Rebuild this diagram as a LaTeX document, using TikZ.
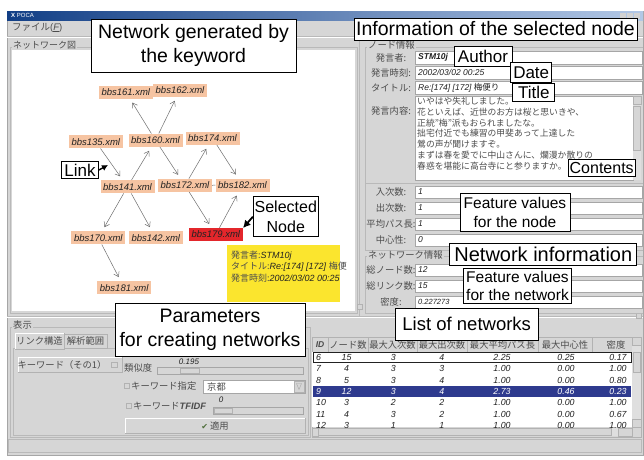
\documentclass[tikz,border=0pt]{standalone}
\usepackage{fontspec}
\setmainfont{Liberation Sans}
\newfontfamily\jp{Noto Sans CJK JP}
\newfontfamily\dv{DejaVu Sans}
\usetikzlibrary{arrows.meta}
\definecolor{wg}{HTML}{D6D6D6}
\definecolor{peach}{HTML}{F6C4A2}
\definecolor{selred}{HTML}{E3262B}
\definecolor{tipy}{HTML}{FBE52E}
\definecolor{selrow}{HTML}{2E3A8E}
\definecolor{tbl}{HTML}{123F86}
\definecolor{tbr}{HTML}{B3C8E6}
\definecolor{uitext}{HTML}{4C4C4C}
\definecolor{edgec}{HTML}{6E6E6E}
\definecolor{dk}{HTML}{222222}
\definecolor{chk}{HTML}{4E6E3A}
\begin{document}
\begin{tikzpicture}[x=1pt,y=-1pt,
  anno/.style={draw=black, line width=0.8pt, fill=white, inner sep=0pt, align=center, text=black},
  bbs/.style={fill=peach, inner sep=0pt, minimum width=54pt, minimum height=13pt, font=\fontsize{9.5}{10}\selectfont\itshape, text=dk},
  edge/.style={draw=edgec, line width=0.5pt, -{Straight Barb[length=4.5pt,width=6pt]}, shorten >=4.5pt},
  jl/.style={inner sep=0pt, text=uitext, font=\jp\fontsize{9.3}{10}\selectfont},
  iv/.style={inner sep=0pt, anchor=west, text=dk, font=\fontsize{8.5}{9}\selectfont\itshape},
  tv/.style={inner sep=0pt, font=\fontsize{8.8}{9}\selectfont\itshape},
  ct/.style={inner sep=0pt, anchor=west, text=uitext, font=\jp\fontsize{8.8}{10}\selectfont},
  field/.style={fill=white, draw=gray!70, line width=0.5pt},
  raised/.style={fill=wg, draw=gray!60, line width=0.5pt},
  etch/.style={draw=gray!55, line width=0.6pt},
  hilite/.style={draw=white, line width=0.6pt},
  ]
\useasboundingbox (0,0) rectangle (644,459);
\fill[white] (0,0) rectangle (644,459);
% window
\fill[wg] (7,11) rectangle (643,455);
\draw[gray!70] (7,11) rectangle (643,455);
\shade[left color=tbl, right color=tbr] (7,11) rectangle (643,20.5);
\node[inner sep=0pt, anchor=west, text=white, font=\fontsize{6}{6}\selectfont] (ttl) at (11,15.8) {\textbf{X}\ POCA};
\foreach \k in {0,1,2} \fill[gray!35] (620+7*\k,12.5) rectangle (626+7*\k,19);
% menu
\node[inner sep=0pt, anchor=west, text=uitext, font=\fontsize{9.5}{10}\selectfont] (menu) at (12,27.5) {{\jp ファイル}(\textit{\underline{F}})};
\draw[etch] (7,36) -- (643,36); \draw[hilite] (7,37) -- (643,37);

% left frame and canvas
\draw[etch] (10,47) rectangle (357,313);
\fill[white] (12,50) rectangle (355,311);
\node[jl, anchor=west, fill=wg, inner xsep=1pt, font=\jp\fontsize{9}{10}\selectfont] (netfig) at (12,45) {ネットワーク図};

% splitters
\draw[etch] (359.5,37) -- (359.5,316);
\draw[gray!60, fill=wg] (357,304) rectangle (362,309);
\draw[etch] (7,316.5) -- (643,316.5); \draw[hilite] (7,317.5) -- (643,317.5);
\draw[gray!60, fill=wg] (636,313.5) rectangle (641,318.5);

% network
\node[bbs] (n161) at (125.8,92) {bbs161.xml};
\node[bbs] (n162) at (180,90) {bbs162.xml};
\node[bbs] (n135) at (95.8,141.8) {bbs135.xml};
\node[bbs] (n160) at (155.5,140.2) {bbs160.xml};
\node[bbs] (n174) at (212.5,138.2) {bbs174.xml};
\node[bbs] (n141) at (127.5,186.7) {bbs141.xml};
\node[bbs] (n172) at (185,185.3) {bbs172.xml};
\node[bbs] (n182) at (242.5,185) {bbs182.xml};
\node[bbs] (n170) at (98.3,237.8) {bbs170.xml};
\node[bbs] (n142) at (155.8,237.8) {bbs142.xml};
\node[bbs, fill=selred] (n179) at (215.8,234.5) {bbs179.xml};
\node[bbs] (n181) at (124.2,287.8) {bbs181.xml};
\draw[edge] (n160) -- (n161);
\draw[edge] (n160) -- (n162);
\draw[edge] (n135) -- (n141);
\draw[edge] (n141) -- (n160);
\draw[edge] (n160) -- (n172);
\draw[edge] (n172) -- (n174);
\draw[edge] (n174) -- (n182);
\draw[edge] (n141) -- (n170);
\draw[edge] (n141) -- (n142);
\draw[edge] (n172) -- (n179);
\draw[edge] (n179) -- (n182);
\draw[edge] (n170) -- (n181);
\draw[edgec, line width=0.5pt] (n172.east) -- (n182.west);

% tooltip
\fill[tipy] (227,245) rectangle (340,302);
\node[inner sep=0pt, anchor=west, font=\fontsize{9}{10}\selectfont, text=dk] (tip1) at (231,256) {{\jp\color{uitext}発言者:}\textit{STM10j}};
\node[inner sep=0pt, anchor=west, font=\fontsize{9}{10}\selectfont, text=dk] (tip2) at (231,267) {{\jp\color{uitext}タイトル:}\textit{Re:[174] [172]} {\jp\color{uitext}梅便}};
\node[inner sep=0pt, anchor=west, font=\fontsize{9}{10}\selectfont, text=dk] (tip3) at (231,278) {{\jp\color{uitext}発言時刻:}\textit{2002/03/02 00:25}};

% node info panel
\draw[etch] (365,47) -- (643,47);
\draw[etch] (365,47) -- (365,250) -- (643,250);
\node[jl, anchor=west, fill=wg, inner xsep=1pt] (nodeinfo) at (367,45) {ノード情報};
\node[jl] (l1) at (391,57.5) {発言者:};
\node[jl] (l2) at (391,72.5) {発言時刻:};
\node[jl] (l3) at (391,87.5) {タイトル:};
\node[jl] (l4) at (391,111) {発言内容:};
\draw[field] (415,51) rectangle (642,64);
\draw[field] (415,66) rectangle (642,79);
\draw[field] (415,81) rectangle (642,94);
\draw[field] (415,96) rectangle (633,180);
\fill[gray!25] (633,96) rectangle (641,180);
\draw[raised] (633,96) rectangle (641,104);
\draw[raised] (633.5,106) rectangle (640.5,150);
\node[iv, font=\fontsize{8.5}{9}\selectfont\itshape\bfseries] (v1) at (418,57.5) {STM10j};
\node[iv] (v2) at (418,72.5) {2002/03/02 00:25};
\node[iv] (v3) at (418,87.5) {Re:[174] [172] {\jp\upshape 梅便り}};
\node[ct] (c1) at (417,101.5) {いやはや失礼しました。};
\node[ct] (c2) at (417,112.2) {花といえば、近世のお方は桜と思いきや、};
\node[ct] (c3) at (417,122.9) {正統”梅”派もおられましたな。};
\node[ct] (c4) at (417,133.6) {拙宅付近でも練習の甲斐あって上達した};
\node[ct] (c5) at (417,144.3) {鶯の声が聞けますぞ。};
\node[ct] (c6) at (417,155) {まずは春を愛でに中山さんに、爛漫か散りの};
\node[ct] (c7) at (417,165.7) {春惑を堪能に高台寺にと参りますか。};
\draw[etch] (365,183) -- (643,183);
\node[jl] (l5) at (391,192) {入次数:};
\node[jl] (l6) at (391,208) {出次数:};
\node[jl] (l7) at (391,224) {平均パス長:};
\node[jl] (l8) at (391,240) {中心性:};
\draw[field] (415,186) rectangle (642,198);
\draw[field] (415,202) rectangle (642,214);
\draw[field] (415,218) rectangle (642,230);
\draw[field] (415,234) rectangle (642,246);
\node[iv] (v5) at (418,192) {1};
\node[iv] (v6) at (418,208) {1};
\node[iv] (v7) at (418,224) {1};
\node[iv] (v8) at (418,240) {0};

% network info panel
\draw[etch] (365,256) -- (643,256);
\draw[etch] (365,256) -- (365,313) -- (643,313);
\node[jl, anchor=west, fill=wg, inner xsep=1pt] (netinfo) at (367,255) {ネットワーク情報};
\node[jl] (l9) at (391,270) {総ノード数:};
\node[jl] (l10) at (391,286) {総リンク数:};
\node[jl] (l11) at (391,302) {密度:};
\draw[field] (415,264) rectangle (642,276);
\draw[field] (415,280) rectangle (642,292);
\draw[field] (415,296) rectangle (642,308);
\node[iv] (v9) at (418,270) {12};
\node[iv] (v10) at (418,286) {15};
\node[iv, font=\fontsize{7.5}{8}\selectfont\itshape] (v11) at (418,302) {0.227273};

% display settings (bottom left)
\draw[etch] (10,327) rectangle (310,437);
\node[jl, anchor=west, fill=wg, inner xsep=1pt] (disp) at (12,325) {表示};
\draw[etch] (13,348.5) rectangle (308,435);
\draw[raised, fill=wg] (15,333) rectangle (64,349);
\draw[hilite] (15.5,349) -- (15.5,333.5) -- (63.5,333.5);
\node[jl] (tab1) at (39.5,341) {リンク構造};
\draw[raised] (64,334) rectangle (107,348);
\node[jl] (tab2) at (85.5,341) {解析範囲};
\draw[raised] (18,357) rectangle (122,372);
\draw[hilite] (18.5,371.5) -- (18.5,357.5) -- (121.5,357.5);
\node[jl] (kw1) at (62,364.5) {キーワード（その1）};
\draw[gray!60, fill=wg] (111,362) rectangle (117,367);
\node[jl, anchor=west] (sim) at (124,368) {類似度};
\node[tv, text=dk, font=\fontsize{8}{9}\selectfont\itshape] (simv) at (189,362) {0.195};
\draw[field, fill=wg] (157,367) rectangle (303,374);
\draw[raised] (180,368) rectangle (199,373);
\draw[gray!60, fill=wg] (124,383.5) rectangle (129,388.5);
\node[jl, anchor=west] (kwsel) at (131,386) {キーワード指定};
\draw[field] (203,380) rectangle (305,393);
\node[jl, anchor=west] (kyoto) at (207,386.5) {京都};
\draw[raised] (294,381) rectangle (304,392);
\draw[gray!70] (296.5,383.5) -- (301.5,383.5) -- (299,389.5) -- cycle;
\draw[gray!60, fill=wg] (126,403.5) rectangle (131,408.5);
\node[jl, anchor=west] (kwtf) at (133,406) {キーワード\fontspec{Liberation Sans}\itshape\bfseries TFIDF};
\node[tv, text=dk, font=\fontsize{8}{9}\selectfont\itshape] (tfv) at (221,400) {0};
\draw[field, fill=wg] (213,407) rectangle (303,414);
\draw[raised] (214,408) rectangle (232,413);
\draw[raised] (125,418) rectangle (305,433);
\draw[hilite] (125.5,432.5) -- (125.5,418.5) -- (304.5,418.5);
\node[jl] (apply) at (215,425.5) {{\dv\color{chk}\fontsize{8}{9}\selectfont ✔} 適用};

% status bar
\draw[etch] (8,439) rectangle (641,452);

% table
\fill[wg] (312,337) rectangle (632,352);
\draw[gray!60] (312,337) rectangle (641,437);
\foreach \xx in {328,368,417,467,538,592} \draw[gray!60] (\xx,337.5) -- (\xx,351.5);
\node[inner sep=0pt, font=\fontsize{8.5}{9}\selectfont\itshape\bfseries, text=uitext] (hid) at (320,344.5) {ID};
\node[jl] (h2) at (348,344.5) {ノード数};
\node[jl] (h3) at (392.5,344.5) {最大入次数};
\node[jl] (h4) at (442,344.5) {最大出次数};
\node[jl] (h5) at (502.5,344.5) {最大平均パス長};
\node[jl] (h6) at (565,344.5) {最大中心性};
\node[jl] (h7) at (616,344.5) {密度};
\fill[white] (312,352) rectangle (632,427);
\begin{scope}
\clip (312,352) rectangle (632,427);
\fill[selrow] (313,385.8) rectangle (631,396.8);
\draw[dk, line width=0.6pt] (313,352.3) rectangle (631,362.5);
\foreach \id/\va/\vb/\vc/\vd/\ve/\vf/\col [count=\i] in
  {6/15/3/4/2.25/0.25/0.17/dk, 7/4/3/3/1.00/0.00/1.00/dk, 8/5/3/4/1.00/0.00/0.80/dk,
   9/12/3/4/2.73/0.46/0.23/white, 10/3/2/2/1.00/0.00/1.00/dk, 11/4/3/2/1.00/0.00/0.67/dk,
   12/3/1/1/1.00/0.00/1.00/dk}{
  \pgfmathsetmacro\ry{346.2+11.3*\i}
  \node[tv, anchor=west, text=\col] (r\i a) at (316,\ry) {\id};
  \node[tv, text=\col] (r\i b) at (346.5,\ry) {\va};
  \node[tv, text=\col] (r\i c) at (393.3,\ry) {\vb};
  \node[tv, text=\col] (r\i d) at (441.7,\ry) {\vc};
  \node[tv, text=\col] (r\i e) at (502,\ry) {\vd};
  \node[tv, text=\col] (r\i f) at (566,\ry) {\ve};
  \node[tv, text=\col] (r\i g) at (618,\ry) {\vf};
}
\end{scope}
\fill[gray!25] (632,337) rectangle (641,427);
\draw[raised] (632,337) rectangle (641,345);
\draw[raised] (633,352) rectangle (640,372);
\draw[raised] (632,419) rectangle (641,427);
\fill[gray!25] (312,427.5) rectangle (632,436);
\draw[raised] (312,428) rectangle (318,436);
\draw[raised] (318.5,428.5) rectangle (611,435.5);
\draw[raised] (618,428) rectangle (632,436);

% annotation boxes
\node[anno, minimum width=205pt, minimum height=53pt, font=\fontsize{19.5}{24}\selectfont] (a1) at (193.5,45.5) {Network generated by\\the keyword};
\node[anno, minimum width=283pt, minimum height=22pt, font=\fontsize{19.5}{22}\selectfont] (a2) at (495.5,29) {Information of the selected node};
\node[anno, minimum width=58pt, minimum height=20pt, font=\fontsize{17}{20}\selectfont] (a3) at (483,56) {Author};
\node[anno, minimum width=41pt, minimum height=20pt, font=\fontsize{17}{20}\selectfont] (a4) at (531.2,72.3) {Date};
\node[anno, minimum width=42pt, minimum height=18.5pt, font=\fontsize{17}{20}\selectfont] (a5) at (533.8,92.5) {Title};
\node[anno, minimum width=67pt, minimum height=17pt, font=\fontsize{16}{18}\selectfont] (a6) at (601.7,168.3) {Contents};
\node[anno, minimum width=110pt, minimum height=38pt, font=\fontsize{15.5}{19}\selectfont] (a7) at (515,212.5) {Feature values\\for the node};
\node[anno, minimum width=187pt, minimum height=22pt, font=\fontsize{20}{22}\selectfont] (a8) at (543.3,254.2) {Network information};
\node[anno, minimum width=108pt, minimum height=35pt, font=\fontsize{15.5}{18}\selectfont] (a9) at (517.5,285.8) {Feature values\\for the network};
\node[anno, minimum width=143pt, minimum height=32pt, font=\fontsize{18.5}{20}\selectfont] (a10) at (466.7,324.2) {List of networks};
\node[anno, minimum width=190pt, minimum height=53pt, font=\fontsize{19.5}{24}\selectfont] (a11) at (210,330) {Parameters\\for creating networks};
\node[anno, minimum width=37pt, minimum height=17pt, font=\fontsize{17}{18}\selectfont] (a12) at (80,170) {Link};
\node[anno, minimum width=65pt, minimum height=40pt, font=\fontsize{16}{20}\selectfont] (a13) at (285.8,216.7) {Selected\\Node};
\coordinate (linktip) at (108,165);
\draw[line width=1.4pt, -{Latex[length=6pt,width=6.5pt]}] (a12.east) -- (linktip);
\coordinate (seltip) at (243,228);
\draw[line width=1.8pt, -{Latex[length=7.5pt,width=8pt]}] (a13.west) -- (seltip);
\end{tikzpicture}
\end{document}
